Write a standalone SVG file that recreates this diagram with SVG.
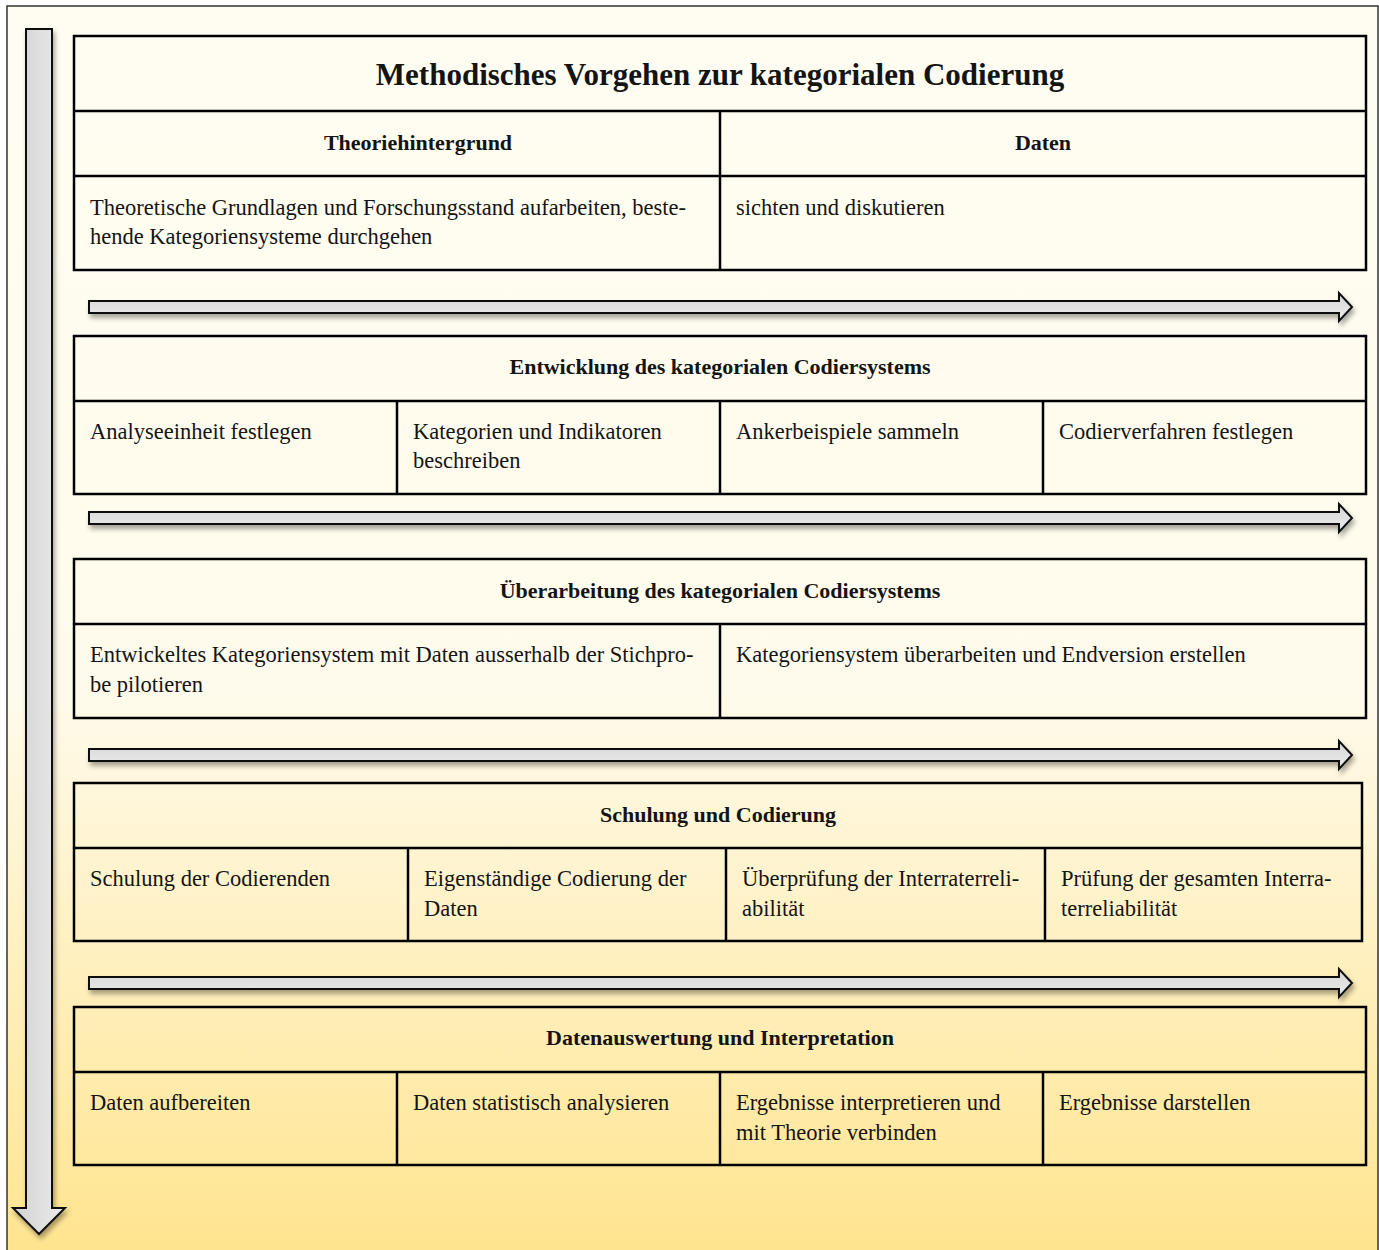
<svg xmlns="http://www.w3.org/2000/svg" width="1379" height="1250" viewBox="0 0 1379 1250">
<defs>
<linearGradient id="bg" x1="0" y1="0" x2="0" y2="1">
<stop offset="0" stop-color="#fffdf2"/>
<stop offset="0.55" stop-color="#fffbec"/>
<stop offset="1" stop-color="#ffe48f"/>
</linearGradient>
<linearGradient id="vshaft" x1="0" y1="0" x2="1" y2="0">
<stop offset="0" stop-color="#d2d2d2"/>
<stop offset="1" stop-color="#ebebeb"/>
</linearGradient>
<linearGradient id="hshaft" x1="0" y1="0" x2="0" y2="1">
<stop offset="0" stop-color="#d6d6d6"/>
<stop offset="1" stop-color="#ececec"/>
</linearGradient>
<filter id="sh" x="-5%" y="-50%" width="110%" height="200%">
<feDropShadow dx="2" dy="4" stdDeviation="2.5" flood-color="#000" flood-opacity="0.35"/>
</filter>
<filter id="shv" x="-50%" y="-5%" width="200%" height="110%">
<feDropShadow dx="2" dy="4" stdDeviation="2.5" flood-color="#000" flood-opacity="0.35"/>
</filter>
</defs>
<style>
.frame{fill:url(#bg);stroke:#333;stroke-width:1.5}
.cell{fill:none;stroke:#000;stroke-width:2.5}
.ln{stroke:#000;stroke-width:2.5}
.harr{fill:url(#hshaft);stroke:#111;stroke-width:2;stroke-linejoin:miter}
.varr{fill:url(#vshaft);stroke:#111;stroke-width:2;stroke-linejoin:miter}
text{font-family:"Liberation Serif",serif;fill:#141414}
.title{font-size:31px;font-weight:bold;text-anchor:middle}
.hd{font-size:22px;font-weight:bold;text-anchor:middle}
.tx{font-size:22.5px}
</style>
<rect class="frame" x="7" y="6" width="1371" height="1245"/>

<g id="connectors">
<polygon class="varr" filter="url(#shv)" points="26,29 52,29 52,1208 65,1208 39,1234 13,1208 26,1208"/>
<polygon class="harr" filter="url(#sh)" points="89,301 1339,301 1339,293 1352,307 1339,321 1339,313 89,313"/>
<polygon class="harr" filter="url(#sh)" points="89,512 1339,512 1339,504 1352,518 1339,532 1339,524 89,524"/>
<polygon class="harr" filter="url(#sh)" points="89,749 1339,749 1339,741 1352,755 1339,769 1339,761 89,761"/>
<polygon class="harr" filter="url(#sh)" points="89,977 1339,977 1339,969 1352,983 1339,997 1339,989 89,989"/>
</g>

<g id="block1">
<rect class="cell" x="74" y="36" width="1292" height="234"/>
<line class="ln" x1="74" y1="111" x2="1366" y2="111"/>
<line class="ln" x1="74" y1="176" x2="1366" y2="176"/>
<line class="ln" x1="720" y1="111" x2="720" y2="270"/>
<text class="title" x="720" y="85">Methodisches Vorgehen zur kategorialen Codierung</text>
<text class="hd" x="418" y="150">Theoriehintergrund</text>
<text class="hd" x="1043" y="150">Daten</text>
<text class="tx" x="90" y="215">Theoretische Grundlagen und Forschungsstand aufarbeiten, beste-</text>
<text class="tx" x="90" y="244">hende Kategoriensysteme durchgehen</text>
<text class="tx" x="736" y="215">sichten und diskutieren</text>
</g>

<g id="block2">
<rect class="cell" x="74" y="336" width="1292" height="158"/>
<line class="ln" x1="74" y1="401" x2="1366" y2="401"/>
<line class="ln" x1="397" y1="401" x2="397" y2="494"/>
<line class="ln" x1="720" y1="401" x2="720" y2="494"/>
<line class="ln" x1="1043" y1="401" x2="1043" y2="494"/>
<text class="hd" x="720" y="374">Entwicklung des kategorialen Codiersystems</text>
<text class="tx" x="90" y="439">Analyseeinheit festlegen</text>
<text class="tx" x="413" y="439">Kategorien und Indikatoren</text>
<text class="tx" x="413" y="468">beschreiben</text>
<text class="tx" x="736" y="439">Ankerbeispiele sammeln</text>
<text class="tx" x="1059" y="439">Codierverfahren festlegen</text>
</g>

<g id="block3">
<rect class="cell" x="74" y="559" width="1292" height="159"/>
<line class="ln" x1="74" y1="624" x2="1366" y2="624"/>
<line class="ln" x1="720" y1="624" x2="720" y2="718"/>
<text class="hd" x="720" y="598">Überarbeitung des kategorialen Codiersystems</text>
<text class="tx" x="90" y="662">Entwickeltes Kategoriensystem mit Daten ausserhalb der Stichpro-</text>
<text class="tx" x="90" y="692">be pilotieren</text>
<text class="tx" x="736" y="662">Kategoriensystem überarbeiten und Endversion erstellen</text>
</g>

<g id="block4">
<rect class="cell" x="74" y="783" width="1288" height="158"/>
<line class="ln" x1="74" y1="848" x2="1362" y2="848"/>
<line class="ln" x1="408" y1="848" x2="408" y2="941"/>
<line class="ln" x1="726" y1="848" x2="726" y2="941"/>
<line class="ln" x1="1045" y1="848" x2="1045" y2="941"/>
<text class="hd" x="718" y="822">Schulung und Codierung</text>
<text class="tx" x="90" y="886">Schulung der Codierenden</text>
<text class="tx" x="424" y="886">Eigenständige Codierung der</text>
<text class="tx" x="424" y="916">Daten</text>
<text class="tx" x="742" y="886">Überprüfung der Interraterreli-</text>
<text class="tx" x="742" y="916">abilität</text>
<text class="tx" x="1061" y="886">Prüfung der gesamten Interra-</text>
<text class="tx" x="1061" y="916">terreliabilität</text>
</g>

<g id="block5">
<rect class="cell" x="74" y="1007" width="1292" height="158"/>
<line class="ln" x1="74" y1="1072" x2="1366" y2="1072"/>
<line class="ln" x1="397" y1="1072" x2="397" y2="1165"/>
<line class="ln" x1="720" y1="1072" x2="720" y2="1165"/>
<line class="ln" x1="1043" y1="1072" x2="1043" y2="1165"/>
<text class="hd" x="720" y="1045">Datenauswertung und Interpretation</text>
<text class="tx" x="90" y="1110">Daten aufbereiten</text>
<text class="tx" x="413" y="1110">Daten statistisch analysieren</text>
<text class="tx" x="736" y="1110">Ergebnisse interpretieren und</text>
<text class="tx" x="736" y="1140">mit Theorie verbinden</text>
<text class="tx" x="1059" y="1110">Ergebnisse darstellen</text>
</g>
</svg>
